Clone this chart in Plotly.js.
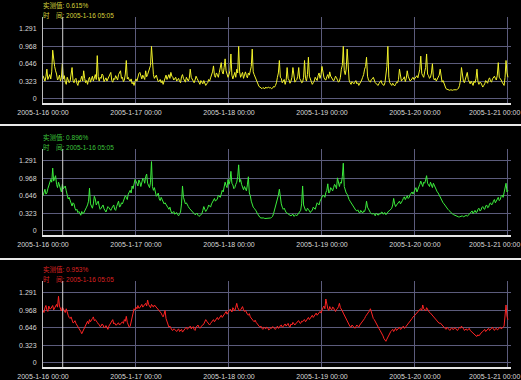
<!DOCTYPE html>
<html>
<head>
<meta charset="utf-8">
<script src="https://cdn.plot.ly/plotly-3.0.1.min.js"></script>
<style>html,body{margin:0;padding:0;background:#000;}#chart{width:521px;height:380px;}</style>
</head>
<body>
<div id="chart"></div>
<script>
// ---- data (15-minute samples, 2005-01-16 00:00 to 2005-01-21 00:00) ----
const stepMinutes = 15;

const yellowValues = [
.43,.38,.33,.41,.55,.36,.40,.45,.37,.50,.90,.72,.60,.52,.46,.35,.38,.44,.33,.39,.65,.37,.43,.31,.27,.40,.35,.30,.33,.44,.58,.34,.30,.36,.38,.29,.25,.34,.31,.36,.42,.33,.52,.38,.30,.34,.27,.36,.40,.31,.36,.42,.33,.38,.45,.36,.80,.41,.33,.40,.38,.46,.43,.32,.35,.39,.33,.37,.40,.44,.49,.34,.31,.38,.36,.43,.40,.35,.45,.48,.52,.38,.40,.32,.35,.46,.71,.37,.40,.35,.33,.37,.28,.31,.25,.32,
.37,.33,.42,.47,.49,.40,.37,.44,.40,.36,.52,.41,.45,.50,.58,.62,.97,.55,.45,.38,.40,.44,.37,.32,.33,.36,.30,.34,.27,.33,.40,.44,.36,.40,.45,.38,.49,.42,.40,.35,.37,.40,.33,.36,.38,.32,.30,.41,.45,.38,.35,.31,.40,.36,.33,.38,.55,.40,.36,.32,.30,.35,.42,.38,.35,.30,.27,.34,.31,.28,.34,.30,.25,.28,.30,.36,.33,.39,.45,.50,.61,.43,.40,.48,.45,.40,.49,.56,.67,.50,.46,.58,.74,.52,.43,.40,
.45,.52,.83,.44,.37,.42,.49,.40,.55,.48,.97,.50,.40,.45,.49,.38,.45,.50,.43,.39,.48,.44,.52,.60,.92,.50,.45,.40,.37,.30,.25,.23,.22,.20,.19,.21,.20,.19,.22,.20,.21,.22,.20,.21,.19,.20,.23,.22,.25,.30,.40,.48,.71,.40,.38,.30,.33,.36,.27,.34,.58,.38,.35,.29,.33,.40,.58,.36,.31,.34,.36,.42,.58,.37,.35,.30,.31,.40,.71,.38,.33,.45,.77,.42,.38,.32,.27,.30,.33,.40,.37,.34,.43,.48,.38,.45,
.60,.44,.40,.36,.35,.41,.45,.38,.50,.42,.38,.34,.33,.37,.42,.39,.36,.31,.33,.40,.55,.62,.97,.52,.45,.55,.92,.48,.35,.30,.27,.32,.30,.28,.31,.34,.28,.30,.25,.28,.30,.35,.40,.45,.55,.60,.77,.42,.35,.33,.31,.36,.37,.40,.33,.30,.28,.27,.25,.29,.31,.34,.28,.26,.25,.30,.45,.60,.97,.40,.30,.27,.25,.29,.26,.24,.27,.31,.30,.36,.55,.38,.33,.36,.37,.41,.32,.38,.52,.42,.37,.33,.35,.38,.40,.36,
.38,.41,.43,.39,.48,.55,.79,.47,.43,.40,.50,.58,.83,.46,.43,.38,.40,.48,.65,.40,.35,.38,.33,.36,.40,.44,.55,.37,.31,.34,.28,.23,.19,.18,.17,.16,.16,.17,.16,.16,.17,.17,.16,.17,.18,.20,.25,.35,.58,.38,.33,.30,.35,.42,.49,.36,.31,.28,.33,.29,.25,.33,.30,.38,.55,.32,.27,.31,.30,.26,.22,.25,.28,.34,.31,.29,.36,.39,.33,.31,.37,.40,.42,.38,.35,.44,.67,.40,.38,.35,.31,.28,.25,.40,.71,.48,
.40];

const greenValues = [
.65,.72,.77,.68,.70,.78,.83,.88,.95,.90,1.16,.92,.98,1.02,.86,.80,.90,.84,.77,.72,.86,.78,.80,.83,.74,.66,.59,.62,.55,.50,.46,.52,.50,.42,.38,.40,.34,.36,.31,.29,.36,.32,.33,.38,.41,.44,.48,.55,.79,.50,.46,.42,.50,.64,.59,.48,.52,.55,.46,.40,.42,.46,.48,.41,.37,.35,.40,.45,.43,.39,.38,.42,.44,.48,.40,.38,.45,.50,.55,.44,.46,.52,.50,.55,.59,.65,.62,.58,.68,.72,.75,.70,.83,.78,.88,.95,
.92,.86,.83,.94,.90,.82,.89,.97,.95,.88,1.00,1.05,.88,.84,.80,.90,1.28,.82,.75,.80,.71,.64,.66,.70,.59,.56,.62,.58,.55,.50,.52,.48,.46,.43,.40,.44,.37,.33,.34,.36,.31,.33,.34,.30,.28,.32,.35,.50,.83,.62,.55,.50,.52,.47,.45,.42,.40,.37,.36,.34,.33,.30,.31,.33,.29,.27,.28,.30,.32,.38,.45,.40,.36,.39,.42,.48,.46,.44,.50,.53,.56,.60,.55,.57,.59,.66,.64,.62,.68,.75,.72,.80,.90,.84,.80,.95,
.86,.92,1.10,.88,.85,.78,.80,.86,.90,1.00,1.22,.90,.95,.86,.80,.76,.82,.78,.74,.85,1.00,.70,.65,.55,.46,.44,.42,.40,.37,.33,.30,.27,.25,.24,.24,.25,.24,.23,.23,.24,.24,.23,.24,.24,.25,.27,.32,.38,.45,.52,.59,.66,.77,.56,.50,.44,.40,.42,.36,.34,.33,.31,.30,.29,.28,.30,.31,.27,.29,.30,.28,.31,.33,.36,.38,.50,.83,.48,.42,.38,.37,.42,.40,.36,.34,.37,.38,.44,.42,.40,.46,.52,.50,.48,.55,.58,
.61,.66,.65,.62,.71,.75,.87,.70,.72,.80,.77,.74,.80,.86,.83,.78,.98,.85,.82,.90,.88,1.00,1.25,.82,.75,.70,.68,.62,.58,.55,.52,.48,.45,.42,.40,.38,.37,.39,.35,.33,.38,.35,.33,.37,.36,.42,.55,.44,.40,.36,.34,.32,.31,.33,.30,.28,.33,.31,.29,.32,.31,.34,.35,.31,.32,.34,.30,.33,.34,.37,.38,.40,.42,.48,.60,.50,.45,.48,.50,.53,.55,.50,.52,.56,.60,.63,.58,.62,.65,.60,.62,.67,.70,.72,.68,.73,
.75,.80,.72,.76,.80,.86,.92,.84,.82,.90,.88,.94,1.02,.88,.85,.82,.90,.86,.80,.88,.84,.78,.75,.72,.70,.66,.62,.58,.55,.52,.50,.47,.45,.42,.40,.38,.36,.34,.33,.31,.30,.29,.28,.27,.27,.26,.26,.27,.27,.28,.26,.27,.28,.29,.27,.29,.30,.32,.34,.37,.32,.35,.38,.34,.35,.40,.42,.37,.38,.43,.45,.41,.40,.46,.48,.43,.44,.50,.52,.48,.50,.55,.58,.52,.55,.60,.62,.56,.58,.64,.66,.62,.70,.78,.88,.72,
.75];

const redValues = [
.97,.93,1.02,1.06,.98,.95,1.05,1.00,1.00,1.04,1.06,.98,1.02,1.07,1.08,1.03,1.23,1.05,1.00,.96,1.03,.99,.97,.93,1.00,.92,.88,.84,.82,.85,.78,.74,.75,.78,.73,.70,.68,.66,.63,.58,.54,.58,.62,.66,.70,.74,.77,.72,.80,.76,.78,.82,.85,.78,.80,.76,.75,.72,.71,.67,.68,.72,.70,.65,.66,.69,.64,.62,.68,.71,.72,.76,.80,.72,.74,.70,.70,.73,.74,.70,.72,.75,.76,.73,.80,.77,.86,.75,.70,.66,.68,.78,.85,.92,1.00,.98,
1.03,1.00,1.06,1.01,1.02,1.05,1.08,1.03,1.05,1.09,1.10,1.05,1.16,1.08,1.06,1.02,1.08,1.04,1.03,1.07,1.05,1.01,1.00,.98,.97,.94,.92,.88,.85,.90,.97,.82,.75,.70,.66,.68,.64,.61,.60,.63,.62,.59,.58,.61,.63,.58,.60,.62,.57,.60,.62,.64,.66,.62,.64,.67,.68,.63,.65,.67,.62,.60,.66,.69,.70,.66,.64,.67,.68,.70,.72,.76,.80,.77,.74,.71,.70,.73,.76,.79,.80,.76,.78,.81,.84,.80,.82,.86,.88,.84,.86,.90,.92,.95,.90,.93,
.95,.99,.98,.94,1.02,.97,.96,1.03,1.10,1.02,1.00,.96,.98,1.01,1.04,.98,.95,.97,.92,.90,.88,.91,.85,.82,.80,.78,.76,.79,.75,.72,.70,.68,.66,.68,.64,.62,.66,.64,.63,.66,.65,.61,.62,.65,.64,.67,.66,.63,.62,.65,.68,.64,.65,.69,.70,.66,.67,.70,.72,.68,.70,.73,.68,.66,.72,.70,.75,.72,.70,.73,.74,.77,.78,.74,.73,.77,.76,.79,.80,.76,.78,.82,.84,.80,.82,.85,.88,.84,.86,.90,.92,.88,.90,.94,.95,.92,
.98,1.02,1.05,1.00,1.18,1.06,1.00,.97,1.04,1.00,.98,1.03,1.02,.97,.95,.99,1.00,1.04,1.10,1.02,1.00,.96,.92,.88,.85,.81,.78,.74,.70,.67,.66,.70,.68,.65,.64,.67,.70,.68,.66,.70,.72,.75,.78,.80,.82,.86,.88,.90,.92,.96,1.00,.92,.85,.82,.80,.76,.72,.69,.66,.63,.60,.57,.55,.50,.45,.42,.40,.44,.48,.52,.55,.58,.60,.62,.58,.61,.64,.60,.62,.65,.66,.62,.63,.66,.68,.64,.65,.68,.70,.72,.74,.76,.78,.82,.85,.86,
.88,.91,.92,.95,.96,.99,1.00,.97,1.07,1.00,.98,.96,1.02,.98,.95,.93,.92,.90,.88,.86,.85,.82,.80,.78,.76,.73,.74,.72,.70,.68,.66,.64,.62,.66,.64,.61,.60,.63,.65,.62,.62,.65,.64,.61,.60,.63,.66,.64,.68,.65,.64,.60,.62,.63,.60,.62,.64,.60,.58,.56,.55,.53,.52,.50,.49,.52,.50,.53,.55,.57,.58,.61,.62,.58,.60,.63,.64,.60,.62,.64,.66,.62,.60,.63,.64,.61,.62,.65,.66,.63,.64,.66,.68,.85,1.07,.86,
.80];

const yTickVals = [0, 0.323, 0.646, 0.968, 1.291];
const yTickText = ['0', '0.323', '0.646', '0.968', '1.291'];
const xTickVals = ['2005-01-16', '2005-01-17', '2005-01-18', '2005-01-19', '2005-01-20', '2005-01-21'];
const xTickText = ['2005-1-16 00:00', '2005-1-17 00:00', '2005-1-18 00:00', '2005-1-19 00:00', '2005-1-20 00:00', ''];
const lastTickText = '2005-1-21 00:00';
const cursorTime = '2005-01-16 05:05';
const valueLabels = ['0.615%', '0.896%', '0.953%'];
const timeLabel = '2005-1-16 05:05';

// ---- build time stamps ----
function pad(n){return (n<10?'0':'')+n;}
const t0 = Date.UTC(2005,0,16,0,0);
function timesFor(vals){
  return vals.map((_, i) => {
    const d = new Date(t0 + i*stepMinutes*60000);
    return d.getUTCFullYear()+'-'+pad(d.getUTCMonth()+1)+'-'+pad(d.getUTCDate())+' '+pad(d.getUTCHours())+':'+pad(d.getUTCMinutes());
  });
}

const W = 521, H = 380;
const series = [yellowValues, greenValues, redValues];
const lineColors = ['#f2f22a', '#3cec3c', '#ff2424'];
const textColors = ['#d6d23c', '#3cc43c', '#dd2222'];
const panelTop = [17, 149, 281];
const panelBottom = [103, 235, 367];

const traces = [];
const layout = {
  width: W, height: H,
  margin: {l:0, r:0, t:0, b:0},
  paper_bgcolor: '#000', plot_bgcolor: '#000',
  showlegend: false,
  font: {family: 'Liberation Sans, Arial, Noto Sans CJK SC', size: 7, color: '#d4d4d4'},
  shapes: [], annotations: []
};
const gridColor = '#5c5c7c';
series.forEach((vals, k) => {
  const n = k+1;
  const xa = 'x'+(n===1?'':n), ya = 'y'+(n===1?'':n);
  traces.push({x: timesFor(vals), y: vals, xaxis: xa, yaxis: ya, type: 'scatter', mode: 'lines',
    line: {color: lineColors[k], width: 1}, hoverinfo: 'skip'});
  const xName = 'xaxis'+(n===1?'':n), yName = 'yaxis'+(n===1?'':n);
  layout[xName] = {
    domain: [43/W, 511/W], anchor: ya, type: 'date',
    range: ['2005-01-16 00:00', '2005-01-21 00:47'],
    tickmode: 'array', tickvals: xTickVals, ticktext: xTickText,
    showgrid: true, gridcolor: gridColor, gridwidth: 1,
    showline: true, linecolor: '#e6e6e6', linewidth: 2,
    ticks: '', ticklabelstandoff: 2, zeroline: false,
    tickfont: {size: 7, color: '#d8d8d8'}, fixedrange: true
  };
  layout[yName] = {
    domain: [1-panelBottom[k]/H, 1-panelTop[k]/H], anchor: xa,
    range: [-0.074, 1.512],
    tickmode: 'array', tickvals: yTickVals, ticktext: yTickText,
    showgrid: true, gridcolor: gridColor, gridwidth: 1,
    showline: true, linecolor: '#bdbdbd', linewidth: 1,
    ticks: '', ticklabelstandoff: 4, zeroline: false,
    tickfont: {size: 7, color: '#d8d8d8'}, fixedrange: true
  };
  layout.shapes.push({type: 'line', xref: xa, yref: ya+' domain', x0: cursorTime, x1: cursorTime, y0: 0, y1: 1,
    line: {color: '#cfcfcf', width: 1}});
  const topPx = panelTop[k] - 17;
  const lbl = {size: 6.5, color: textColors[k], family: 'Liberation Sans, Noto Sans CJK SC'};
  layout.annotations.push({xref: 'paper', yref: 'paper', x: 42/W, y: 1-topPx/H, xanchor: 'left', yanchor: 'top',
    showarrow: false, text: '实测值: '+valueLabels[k], font: lbl, borderpad: 0});
  layout.annotations.push({xref: 'paper', yref: 'paper', x: 42/W, y: 1-(topPx+9.6)/H, xanchor: 'left', yanchor: 'top',
    showarrow: false, text: '时　间: '+timeLabel, font: lbl, borderpad: 0});
  // last day label, kept inside the picture's right edge
  layout.annotations.push({xref: 'paper', yref: 'paper', x: 1, y: 1-(panelBottom[k]+9)/H, xanchor: 'right', yanchor: 'middle',
    showarrow: false, text: lastTickText, font: {size: 7, color: '#d8d8d8', family: 'Liberation Sans, Arial'}, borderpad: 0});
});
[125, 259].forEach(py => {
  layout.shapes.push({type: 'line', xref: 'paper', yref: 'paper', x0: 0, x1: 1, y0: 1-py/H, y1: 1-py/H,
    line: {color: '#e8e8e8', width: 2}});
});
Plotly.newPlot('chart', traces, layout, {displayModeBar: false, staticPlot: true});
</script>
</body>
</html>
